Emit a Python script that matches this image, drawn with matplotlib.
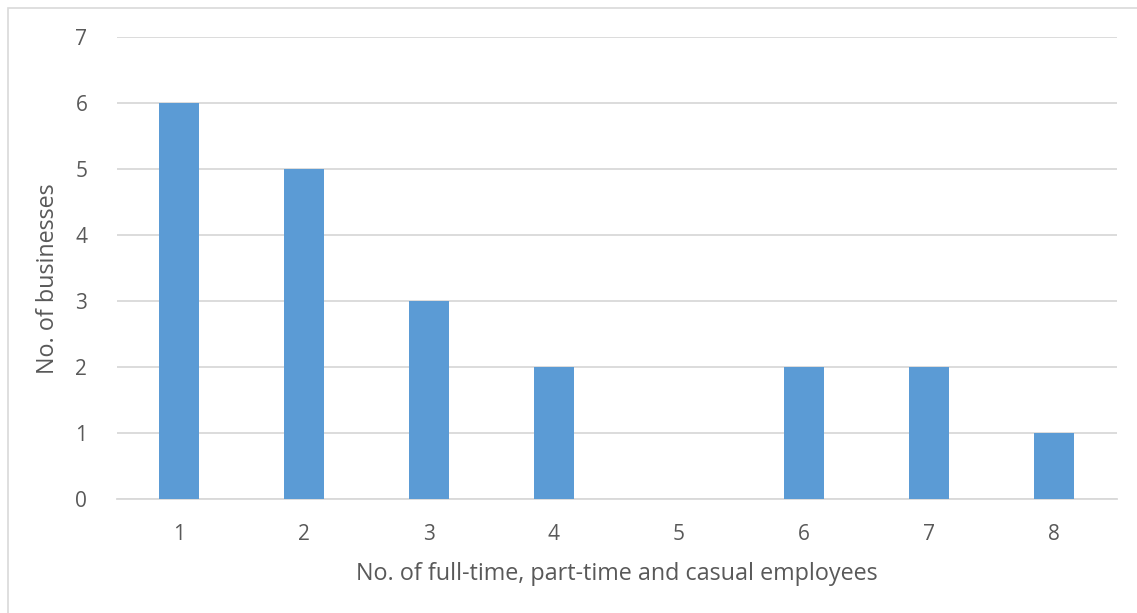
import matplotlib
matplotlib.use("Agg")
import matplotlib.pyplot as plt
from matplotlib.patches import Rectangle

# data
employees = [1, 2, 3, 4, 5, 6, 7, 8]
businesses = [6, 5, 3, 2, 0, 2, 2, 1]
y_ticks = [0, 1, 2, 3, 4, 5, 6, 7]

text_col = "#595959"
plt.rcParams['font.family'] = ['Open Sans', 'DejaVu Sans']

fig = plt.figure(figsize=(11.37, 6.13), dpi=100)
W, H = 1137, 613
ax = fig.add_axes([116.5 / W, 1 - 499 / H, 1000 / W, 462 / H])

# light chart border (left/top visible)
fig.patches.append(Rectangle((8 / W, -0.1), 1.2, 1 - 8 / H + 0.1, transform=fig.transFigure,
                             fill=False, edgecolor="#D9D9D9", linewidth=1.2))

ax.bar(employees, businesses, width=0.315, color="#5B9BD5", zorder=3)

ax.set_xlim(0.5, 8.5)
ax.set_ylim(0, 7)
ax.set_yticks(y_ticks)
ax.set_xticks(employees)
ax.yaxis.grid(True, color="#D9D9D9", linewidth=1.3, zorder=0)
for s in ["top", "right", "left"]:
    ax.spines[s].set_visible(False)
ax.spines["bottom"].set_color("#D9D9D9")
ax.spines["bottom"].set_linewidth(1.3)
ax.tick_params(axis="both", length=0, labelsize=15, colors=text_col)
ax.tick_params(axis="y", pad=21)
ax.tick_params(axis="x", pad=18)

ax.set_xlabel("No. of full-time, part-time and casual employees", fontsize=16.8,
              color=text_col, labelpad=12)
ax.set_ylabel("No. of businesses", fontsize=16.8, color=text_col, labelpad=11)
ax.yaxis.label.set_y(0.477)

fig.savefig("out.png", dpi=100)
